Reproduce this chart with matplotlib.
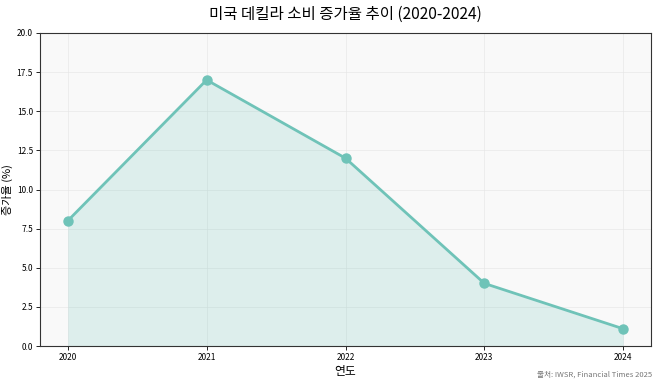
import matplotlib
matplotlib.use("Agg")
import matplotlib.pyplot as plt

plt.rcParams['font.family'] = ['Noto Sans CJK KR', 'DejaVu Sans']

years = [2020, 2021, 2022, 2023, 2024]
growth = [8.0, 17.0, 12.0, 4.0, 1.1]
yticks = [0.0, 2.5, 5.0, 7.5, 10.0, 12.5, 15.0, 17.5, 20.0]

color = '#6fc3b8'

fig = plt.figure(figsize=(6.58, 3.86), dpi=100)
ax = fig.add_axes([40/658, 40/386, 611/658, 313/386])
ax.set_facecolor('#f9f9f9')
ax.fill_between(years, growth, 0, color=color, alpha=0.2, linewidth=0)
ax.plot(years, growth, color=color, linewidth=2, marker='o', markersize=6.5)
ax.set_ylim(0, 20)
ax.set_yticks(yticks)
ax.set_yticklabels([f"{v:.1f}" for v in yticks])
ax.set_xticks(years)
ax.set_xticklabels([str(y) for y in years])
ax.tick_params(labelsize=6, length=3, width=0.6, pad=2)
ax.grid(True, color='#e6e6e6', linewidth=0.6, alpha=0.7)
ax.set_axisbelow(True)
for s in ax.spines.values():
    s.set_color('#333333')
    s.set_linewidth(0.8)
ax.set_xlabel('연도', fontsize=8.5, labelpad=2)
ax.set_ylabel('증가율 (%)', fontsize=8, labelpad=3)
fig.text(345.5/658, 1 - 14/386, '미국 데킬라 소비 증가율 추이 (2020-2024)', ha='center', va='center', fontsize=11.2)
fig.text(652/658, 1 - 375/386, '출처: IWSR, Financial Times 2025', ha='right', va='center', fontsize=5.5, color='#777777')
fig.savefig('out.png', dpi=100)
